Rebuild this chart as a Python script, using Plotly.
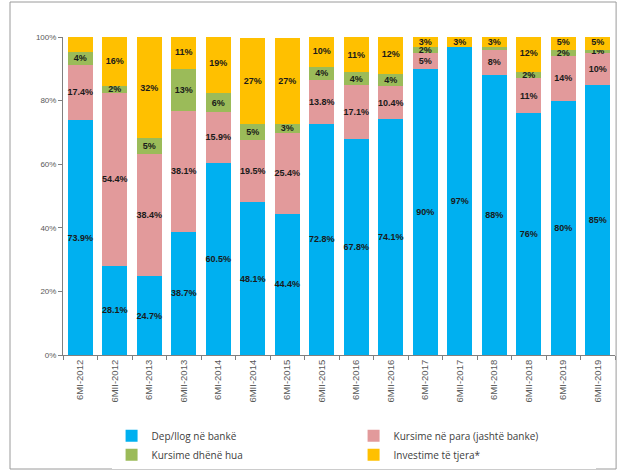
import plotly.graph_objects as go

periods = ["6MI-2012", "6MII-2012", "6MI-2013", "6MII-2013", "6MI-2014", "6MII-2014",
           "6MI-2015", "6MII-2015", "6MI-2016", "6MII-2016", "6MI-2017", "6MII-2017",
           "6MI-2018", "6MII-2018", "6MI-2019", "6MII-2019"]

dep_bank = [73.9, 28.1, 24.7, 38.7, 60.5, 48.1, 44.4, 72.8, 67.8, 74.1, 90, 97, 88, 76, 80, 85]
kursime_para = [17.4, 54.4, 38.4, 38.1, 15.9, 19.5, 25.4, 13.8, 17.1, 10.4, 5, 0, 8, 11, 14, 10]
kursime_hua = [4, 2, 5, 13, 6, 5, 3, 4, 4, 4, 2, 0, 1, 2, 2, 1]
investime = [4.7, 16, 32, 11, 19, 27, 27, 10, 11, 12, 3, 3, 3, 12, 5, 5]

dep_labels = ["73.9%", "28.1%", "24.7%", "38.7%", "60.5%", "48.1%", "44.4%", "72.8%",
              "67.8%", "74.1%", "90%", "97%", "88%", "76%", "80%", "85%"]
para_labels = ["17.4%", "54.4%", "38.4%", "38.1%", "15.9%", "19.5%", "25.4%", "13.8%",
               "17.1%", "10.4%", "5%", "", "8%", "11%", "14%", "10%"]
hua_labels = ["4%", "2%", "5%", "13%", "6%", "5%", "3%", "4%", "4%", "4%", "2%", "",
              "", "2%", "2%", "1%"]
inv_labels = ["", "16%", "32%", "11%", "19%", "27%", "27%", "10%", "11%", "12%", "3%", "3%",
              "3%", "12%", "5%", "5%"]

series = [
    ("Dep/llog në bankë", dep_bank, dep_labels, "#00B0F0"),
    ("Kursime në para (jashtë banke)", kursime_para, para_labels, "#E29A9B"),
    ("Kursime dhënë hua", kursime_hua, hua_labels, "#9BBB59"),
    ("Investime të tjera*", investime, inv_labels, "#FFC000"),
]

fig = go.Figure()
for name, vals, labels, color in series:
    fig.add_trace(go.Bar(
        x=periods, y=vals, name=name, text=labels,
        marker=dict(color=color, line=dict(width=0)),
        textposition="inside", insidetextanchor="middle",
        constraintext="none", textangle=0,
        textfont=dict(family="Liberation Sans Narrow, Liberation Sans", size=9,
                      color="#1a1a1a", weight="bold"),
        hoverinfo="skip",
    ))

fig.update_layout(
    barmode="stack",
    bargap=0.27,
    width=617, height=472,
    margin=dict(l=63, r=2, t=37, b=117),
    paper_bgcolor="white", plot_bgcolor="white",
    font=dict(family="Liberation Sans", size=8, color="#595959"),
    showlegend=True,
    legend=dict(
        orientation="h", x=0.088, y=-0.208, xanchor="left", yanchor="top",
        entrywidth=197, entrywidthmode="pixels",
        font=dict(family="Open Sans", size=10, color="#404040"),
        itemwidth=30, traceorder="normal", tracegroupgap=0,
    ),
    shapes=[dict(type="rect", xref="paper", yref="paper",
                 x0=(10 - 63) / 552, x1=(615 - 63) / 552 + 0.002,
                 y0=-(469 - 355) / 318, y1=(355 - 2) / 318,
                 line=dict(color="#9a9a9a", width=1))],
)

fig.update_yaxes(
    range=[0, 100], tickvals=[0, 20, 40, 60, 80, 100],
    ticktext=["0%", "20%", "40%", "60%", "80%", "100%"],
    showgrid=False, showline=True, linecolor="#7f7f7f", linewidth=1,
    ticks="outside", ticklen=4, tickcolor="#7f7f7f",
    tickfont=dict(size=8, color="#595959"), zeroline=False,
)
fig.update_xaxes(
    tickangle=-90, showline=True, linecolor="#7f7f7f", linewidth=1,
    ticks="outside", ticklen=4, tickcolor="#7f7f7f", tickson="boundaries",
    tickfont=dict(size=9.5, color="#595959"), automargin=False,
)

fig.write_html("out.html")
